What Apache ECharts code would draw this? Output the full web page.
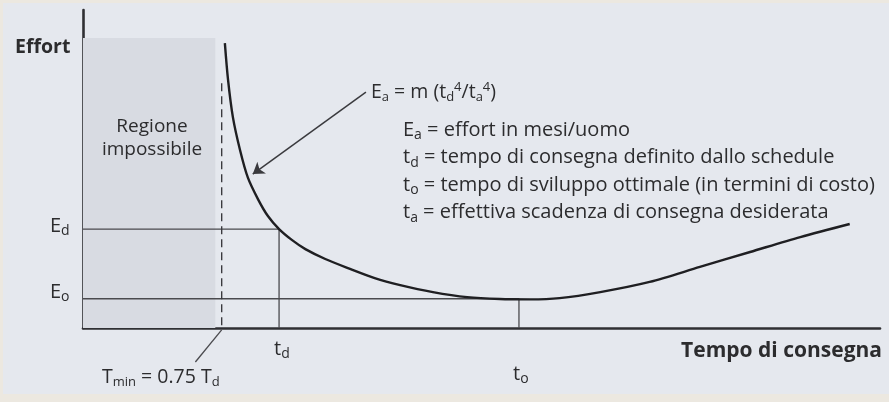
<!DOCTYPE html>
<html>
<head>
<meta charset="utf-8">
<script src="https://cdn.jsdelivr.net/npm/echarts@6/dist/echarts.min.js"></script>
<style>html,body{margin:0;padding:0;background:#ece8e0;}#c{width:889px;height:402px;}</style>
</head>
<body>
<div id="c"></div>
<script>
// ---- data (time and effort in arbitrary units, axes 0..10) ----
const curveTime   = [1.78, 1.82, 1.88, 1.97, 2.07, 2.20, 2.32, 2.46, 2.62, 2.79, 3.04, 3.35, 3.66, 3.98, 4.39, 4.82, 5.23, 5.61, 5.98, 6.49, 7.11, 7.74, 8.37, 9.00, 9.62];
const curveEffort = [8.96, 7.80, 6.64, 5.60, 4.72, 4.03, 3.52, 3.11, 2.77, 2.48, 2.17, 1.86, 1.57, 1.35, 1.13, 0.97, 0.91, 0.90, 0.94, 1.13, 1.45, 1.92, 2.39, 2.86, 3.27];
const Ed = 3.11, Eo = 0.92;          // effort levels
const td = 2.46, to = 5.47;          // delivery times
const tmin = 1.74, tminTop = 7.70;   // Tmin = 0.75 td (dashed limit)
const impossibleRegion = [[0, 0], [1.66, 9.12]];
const arrowFrom = [3.55, 7.42], arrowTo = [2.13, 4.84];
const tminLeader = [[1.74, -0.06], [1.41, -1.07]];
const legendLines = [
  'E{s|a} = effort in mesi/uomo',
  't{s|d} = tempo di consegna definito dallo schedule',
  't{s|o} = tempo di sviluppo ottimale (in termini di costo)',
  't{s|a} = effettiva scadenza di consegna desiderata'
];
const formula = 'E{s|a} = m (t{s|d}{p|4}/t{s|a}{p|4})';

const fam = '"Open Sans", "Noto Sans", sans-serif';
const ink = '#2c2c2e';
function rich(fs) {
  const sub = Math.round(fs * 0.68);
  return {
    s: { fontSize: sub, fontFamily: fam, fill: ink, padding: [Math.round(fs * 0.55), 0, 0, 0] },
    p: { fontSize: sub, fontFamily: fam, fill: ink, padding: [0, 0, Math.round(fs * 0.5), 0] }
  };
}
function txt(x, y, text, fs, opt) {
  opt = opt || {};
  return {
    type: 'text', z: 100, x: x, y: y,
    style: {
      text: text, fontSize: fs, fontFamily: fam, fill: ink,
      fontWeight: opt.bold ? 'bold' : 'normal',
      align: opt.align || 'left', verticalAlign: 'middle',
      rich: rich(fs)
    }
  };
}

const chart = echarts.init(document.getElementById('c'), null, { renderer: 'canvas' });
const thin = { color: '#4a4a4e', width: 1.3 };

const graphics = [
  { type: 'rect', z: -10, shape: { x: 3, y: 3, width: 886, height: 391 }, style: { fill: '#e5e8ee' } },
  txt(15, 47, 'Effort', 19.5, { bold: true }),
  txt(152, 127, 'Regione', 19, { align: 'center' }),
  txt(152, 150, 'impossibile', 19, { align: 'center' }),
  txt(50, 226, 'E{s|d}', 20),
  txt(50, 292, 'E{s|o}', 20),
  txt(274, 349, 't{s|d}', 20),
  txt(513, 374, 't{s|o}', 20),
  txt(102, 377, 'T{s|min} = 0.75 T{s|d}', 19.5),
  txt(882, 351, 'Tempo di consegna', 21, { bold: true, align: 'right' }),
  txt(371, 92, formula, 19.5)
];
legendLines.forEach((t, i) => graphics.push(txt(403, 130 + i * 27.5, t, 20)));

chart.setOption({
  animation: false,
  backgroundColor: 'transparent',
  grid: { left: 83, right: 9, top: 10, bottom: 74 },
  xAxis: {
    type: 'value', min: 0, max: 10,
    axisLine: { show: true, onZero: false, lineStyle: { color: '#2f2f33', width: 2.6 } },
    axisTick: { show: false }, axisLabel: { show: false }, splitLine: { show: false }
  },
  yAxis: {
    type: 'value', min: 0, max: 10,
    axisLine: { show: true, onZero: false, lineStyle: { color: '#2f2f33', width: 2.6 } },
    axisTick: { show: false }, axisLabel: { show: false }, splitLine: { show: false }
  },
  graphic: graphics,
  series: [
    {
      type: 'line', data: [], silent: true, z: 1,
      markArea: {
        silent: true,
        itemStyle: { color: '#d8dbe2' },
        data: [[{ coord: impossibleRegion[0] }, { coord: impossibleRegion[1] }]]
      }
    },
    { type: 'line', data: [[0, Ed], [td, Ed], [td, 0]], symbol: 'none', lineStyle: thin, z: 3 },
    { type: 'line', data: [[0, Eo], [to, Eo], [to, 0]], symbol: 'none', lineStyle: thin, z: 3 },
    { type: 'line', data: [[tmin, tminTop], [tmin, 0]], symbol: 'none',
      lineStyle: { color: '#3a3a3e', width: 1.4, type: [8, 5] }, z: 3 },
    { type: 'line', data: tminLeader, symbol: 'none', clip: false, lineStyle: thin, z: 3 },
    { type: 'line', data: curveTime.map((t, i) => [t, curveEffort[i]]), symbol: 'none', smooth: 0.3,
      lineStyle: { color: '#1f1f22', width: 2.4 }, z: 4 },
    { type: 'lines', coordinateSystem: 'cartesian2d', z: 4,
      symbol: ['none', 'arrow'], symbolSize: 11,
      lineStyle: { color: '#3a3a3e', width: 1.5, opacity: 1 },
      data: [{ coords: [arrowFrom, arrowTo] }] }
  ]
});
</script>
</body>
</html>
